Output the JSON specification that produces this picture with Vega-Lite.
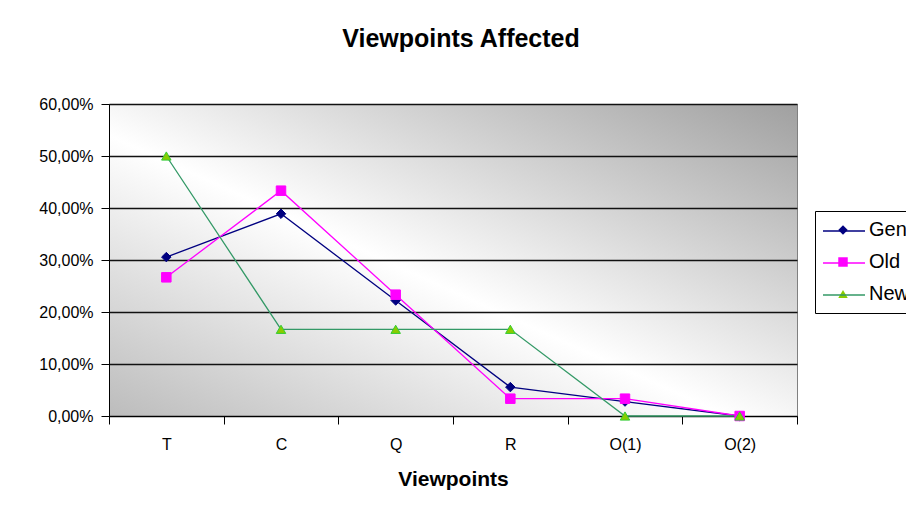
{
  "$schema": "https://vega.github.io/schema/vega-lite/v6.json",
  "autosize": {"type": "none"},
  "width": 688,
  "height": 312,
  "padding": {"left": 109, "top": 104, "right": 109, "bottom": 99},
  "background": "white",
  "title": {
    "text": "Viewpoints Affected",
    "font": "Liberation Sans",
    "fontSize": 25,
    "fontWeight": "bold",
    "color": "black",
    "anchor": "middle",
    "offset": 44,
    "dx": 8
  },
  "config": {
    "font": "Liberation Sans",
    "view": {
      "stroke": "#808080",
      "fill": {
        "gradient": "linear",
        "x1": 0, "y1": 1, "x2": 1, "y2": 0,
        "stops": [
          {"offset": 0, "color": "#bcbcbc"},
          {"offset": 0.45, "color": "#ffffff"},
          {"offset": 1, "color": "#a0a0a0"}
        ]
      }
    }
  },
  "data": {
    "values": [
      {"viewpoint": "T", "series": "Gen", "name": "Gen", "pct": 30.56},
      {"viewpoint": "C", "series": "Gen", "name": "Gen", "pct": 38.89},
      {"viewpoint": "Q", "series": "Gen", "name": "Gen", "pct": 22.22},
      {"viewpoint": "R", "series": "Gen", "name": "Gen", "pct": 5.56},
      {"viewpoint": "O(1)", "series": "Gen", "name": "Gen", "pct": 2.78},
      {"viewpoint": "O(2)", "series": "Gen", "name": "Gen", "pct": 0},
      {"viewpoint": "T", "series": "Old", "name": "Old", "pct": 26.67},
      {"viewpoint": "C", "series": "Old", "name": "Old", "pct": 43.33},
      {"viewpoint": "Q", "series": "Old", "name": "Old", "pct": 23.33},
      {"viewpoint": "R", "series": "Old", "name": "Old", "pct": 3.33},
      {"viewpoint": "O(1)", "series": "Old", "name": "Old", "pct": 3.33},
      {"viewpoint": "O(2)", "series": "Old", "name": "Old", "pct": 0},
      {"viewpoint": "T", "series": "New", "name": "New", "pct": 50},
      {"viewpoint": "C", "series": "New", "name": "New", "pct": 16.67},
      {"viewpoint": "Q", "series": "New", "name": "New", "pct": 16.67},
      {"viewpoint": "R", "series": "New", "name": "New", "pct": 16.67},
      {"viewpoint": "O(1)", "series": "New", "name": "New", "pct": 0},
      {"viewpoint": "O(2)", "series": "New", "name": "New", "pct": 0}
    ]
  },
  "encoding": {
    "x": {
      "field": "viewpoint",
      "type": "ordinal",
      "sort": ["T", "C", "Q", "R", "O(1)", "O(2)"],
      "scale": {"type": "band", "domain": ["T", "C", "Q", "R", "O(1)", "O(2)"], "paddingInner": 0, "paddingOuter": 0},
      "axis": {
        "title": "Viewpoints",
        "titleFont": "Liberation Sans",
        "titleFontSize": 21,
        "titleFontWeight": "bold",
        "titleColor": "black",
        "titlePadding": 16,
        "labelFont": "Liberation Sans",
        "labelFontSize": 16,
        "labelColor": "black",
        "labelAngle": 0,
        "labelPadding": 12,
        "tickBand": "extent",
        "tickSize": 8,
        "tickColor": "black",
        "domainColor": "black",
        "grid": false
      }
    },
    "y": {
      "field": "pct",
      "type": "quantitative",
      "scale": {"domain": [0, 60], "nice": false},
      "axis": {
        "title": null,
        "values": [0, 10, 20, 30, 40, 50, 60],
        "labelExpr": "replace(format(datum.value, '.2f'), '.', ',') + '%'",
        "labelFont": "Liberation Sans",
        "labelFontSize": 16,
        "labelColor": "black",
        "labelPadding": 8,
        "tickSize": 8,
        "tickColor": "black",
        "domainColor": "black",
        "grid": true,
        "gridColor": "#111111",
        "gridWidth": 1.4
      }
    }
  },
  "resolve": {"scale": {"stroke": "independent"}, "legend": {"stroke": "independent"}},
  "layer": [
    {
      "mark": {"type": "line", "strokeWidth": 1.3},
      "encoding": {
        "stroke": {
          "field": "series",
          "type": "nominal",
          "scale": {"domain": ["Gen", "Old", "New"], "range": ["#000080", "#ff00ff", "#339966"]},
          "legend": {
            "title": null,
            "orient": "none",
            "legendX": 713,
            "legendY": 105,
            "padding": 0,
            "rowPadding": 0,
            "symbolType": "stroke",
            "symbolSize": 1764,
            "symbolStrokeWidth": 1.3,
            "symbolOffset": 0,
            "labelFont": "Liberation Sans",
            "labelFontSize": 20,
            "labelOpacity": 0,
            "labelExpr": "''",
            "labelOffset": 5
          }
        }
      }
    },
    {
      "mark": {"type": "point", "filled": true, "size": 90, "opacity": 1, "strokeWidth": 1},
      "encoding": {
        "shape": {
          "field": "name",
          "type": "nominal",
          "scale": {"domain": ["Gen", "Old", "New"], "range": ["diamond", "square", "triangle-up"]},
          "legend": {
            "title": null,
            "orient": "none",
            "legendX": 706,
            "legendY": 107,
            "strokeColor": "black",
            "padding": 9,
            "rowPadding": 12,
            "symbolSize": 90,
            "symbolOffset": 9,
            "labelFont": "Liberation Sans",
            "labelFontSize": 20,
            "labelColor": "black",
            "labelOffset": 16
          }
        },
        "fill": {
          "field": "name",
          "type": "nominal",
          "scale": {"domain": ["Gen", "Old", "New"], "range": ["#000080", "#ff00ff", "#88cc00"]}
        },
        "stroke": {
          "field": "name",
          "type": "nominal",
          "scale": {"domain": ["Gen", "Old", "New"], "range": ["#000080", "#ff00ff", "#33cc33"]},
          "legend": null
        }
      }
    }
  ]
}
